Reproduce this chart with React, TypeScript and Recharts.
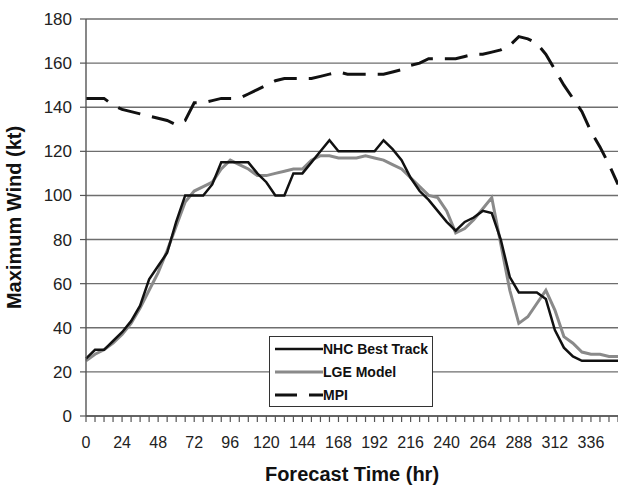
import {
  LineChart,
  Line,
  XAxis,
  YAxis,
  CartesianGrid,
  Legend,
} from "recharts";

// forecast hour (6-hourly)
const hours = [
  0, 6, 12, 18, 24, 30, 36, 42, 48, 54, 60, 66, 72, 78, 84, 90, 96, 102, 108, 114,
  120, 126, 132, 138, 144, 150, 156, 162, 168, 174, 180, 186, 192, 198, 204, 210,
  216, 222, 228, 234, 240, 246, 252, 258, 264, 270, 276, 282, 288, 294, 300, 306,
  312, 318, 324, 330, 336, 342, 348, 354,
];

const nhcBestTrack = [
  26, 30, 30, 34, 38, 43, 50, 62, 68, 74, 88, 100, 100, 100, 105, 115, 115, 115, 115, 110,
  106, 100, 100, 110, 110, 115, 120, 125, 120, 120, 120, 120, 120, 125, 121, 116,
  108, 102, 98, 93, 88, 84, 88, 90, 93, 92, 80, 63, 56, 56, 56, 53,
  39, 31, 27, 25, 25, 25, 25, 25,
];

const lgeModel = [
  25, 28, 30, 33, 37, 42, 49, 57, 65, 75, 86, 97, 102, 104, 106, 112, 116, 114, 112, 109,
  109, 110, 111, 112, 112, 116, 118, 118, 117, 117, 117, 118, 117, 116, 114, 112,
  108, 104, 100, 99, 93, 83, 85, 89, 94, 99, 78, 57, 42, 45, 51, 57,
  48, 36, 33, 29, 28, 28, 27, 27,
];

const mpi = [
  144, 144, 144, 141, 139, 138, 137, 136, 135, 134, 132, 134, 142, 142, 143, 144, 144, 144, 146, 148,
  150, 152, 153, 153, 153, 153, 154, 155, 156, 155, 155, 155, 155, 155, 156, 157,
  159, 160, 162, 162, 162, 162, 163, 164, 164, 165, 166, 168, 172, 171, 169, 164,
  157, 150, 144, 138, 129, 122, 114, 105,
];

const xLabels = [0, 24, 48, 72, 96, 120, 144, 168, 192, 216, 240, 264, 288, 312, 336];
const yTicks = [0, 20, 40, 60, 80, 100, 120, 140, 160, 180];

const seriesNames = ["NHC Best Track", "LGE Model", "MPI"];

const data = hours.map((h, i) => ({
  hour: h,
  nhc: nhcBestTrack[i],
  lge: lgeModel[i],
  mpi: mpi[i],
}));

const font = "'Liberation Sans', Arial, sans-serif";

function LegendBox() {
  const rows = [
    { name: seriesNames[0], color: "#111", width: 2.5, dash: undefined },
    { name: seriesNames[1], color: "#8a8a8a", width: 3, dash: undefined },
    { name: seriesNames[2], color: "#111", width: 3, dash: "22 12" },
  ];
  return (
    <div
      style={{
        width: 162,
        height: 69,
        border: "1.5px solid #333",
        background: "#fff",
        fontFamily: font,
        fontWeight: "bold",
        fontSize: 14,
        color: "#111",
        boxSizing: "content-box",
      }}
    >
      {rows.map((r) => (
        <div
          key={r.name}
          style={{ display: "flex", alignItems: "center", height: 23 }}
        >
          <svg width={54} height={10} style={{ marginLeft: 5 }}>
            <line
              x1={0}
              y1={5}
              x2={48}
              y2={5}
              stroke={r.color}
              strokeWidth={r.width}
              strokeDasharray={r.dash}
            />
          </svg>
          <span style={{ marginLeft: -6 }}>{r.name}</span>
        </div>
      ))}
    </div>
  );
}

export default function App() {
  return (
    <div style={{ position: "absolute", left: 0, top: 0, background: "#fff" }}>
      <LineChart
        width={618}
        height={486}
        data={data}
        margin={{ top: 19, right: 0, left: 0, bottom: 0 }}
      >
        <CartesianGrid
          vertical={false}
          stroke="#6e6e6e"
          strokeWidth={1.4}
        />

        <XAxis
          dataKey="hour"
          type="number"
          domain={[0, 354]}
          ticks={hours}
          interval={0}
          tickFormatter={(v: number) => (xLabels.includes(v) ? String(v) : "")}
          height={70}
          tickSize={6}
          tickMargin={15}
          axisLine={{ stroke: "#555", strokeWidth: 1.4 }}
          tickLine={{ stroke: "#555", strokeWidth: 1.2 }}
          tick={{ fill: "#222", fontSize: 16, fontFamily: font }}
          label={{
            value: "Forecast Time (hr)",
            position: "insideBottom",
            offset: 5,
            style: { fontSize: 20, fontWeight: "bold", fill: "#111", fontFamily: font },
          }}
        />

        <YAxis
          type="number"
          domain={[0, 180]}
          ticks={yTicks}
          width={86}
          tickSize={6}
          tickMargin={8}
          axisLine={{ stroke: "#555", strokeWidth: 1.4 }}
          tickLine={{ stroke: "#555", strokeWidth: 1.2 }}
          tick={{ fill: "#222", fontSize: 17, fontFamily: font }}
          label={{
            value: "Maximum Wind (kt)",
            angle: -90,
            position: "insideLeft",
            offset: 14,
            style: {
              textAnchor: "middle",
              fontSize: 20,
              fontWeight: "bold",
              fill: "#111",
              fontFamily: font,
            },
          }}
        />

        <Legend
          layout="horizontal"
          verticalAlign="middle"
          align="center"
          content={() => <LegendBox />}
          wrapperStyle={{ position: "absolute", left: 269, top: 336, width: 165 }}
        />

        <Line
          name={seriesNames[2]}
          dataKey="mpi"
          type="linear"
          stroke="#111"
          strokeWidth={3}
          strokeDasharray="23 12"
          dot={false}
          isAnimationActive={false}
        />
        <Line
          name={seriesNames[1]}
          dataKey="lge"
          type="linear"
          stroke="#8a8a8a"
          strokeWidth={3}
          dot={false}
          isAnimationActive={false}
        />
        <Line
          name={seriesNames[0]}
          dataKey="nhc"
          type="linear"
          stroke="#111"
          strokeWidth={2.5}
          dot={false}
          isAnimationActive={false}
        />
      </LineChart>
    </div>
  );
}
